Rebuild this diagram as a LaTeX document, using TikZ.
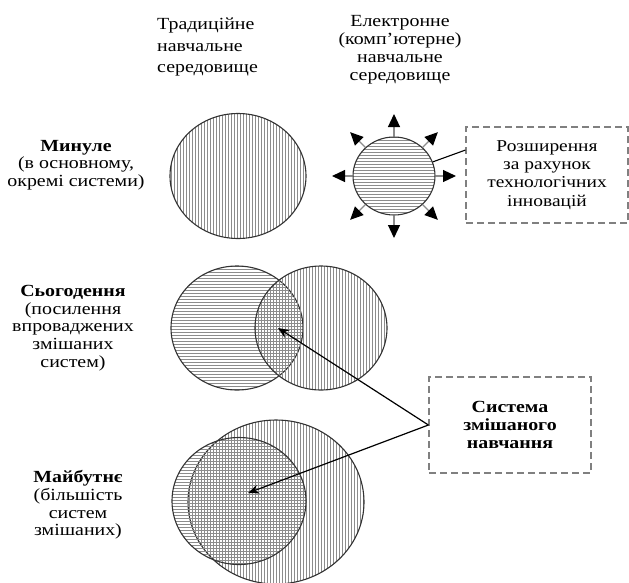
\documentclass[tikz,border=0pt]{standalone}
\usepackage{fontspec}
\setmainfont{Liberation Serif}[FakeStretch=1.17]
\usetikzlibrary{arrows.meta,positioning,shapes.geometric,patterns,calc}

\tikzset{
	circ/.style={ellipse,draw=black!80,line width=1.1pt,inner sep=0pt},
	horfill/.style={circ,pattern=horizontal lines,pattern color=black!45},
	verfill/.style={circ,pattern=vertical lines,pattern color=black!45},
	infobox/.style={draw=black!50,dash pattern=on 7pt off 4pt,line width=1.2pt,
		minimum width=162pt,minimum height=96pt,align=center,inner sep=0pt},
	stagetext/.style={align=center,inner sep=0pt,font=\fontsize{17}{17.6}\selectfont},
	headtext/.style={inner sep=0pt,font=\fontsize{17}{18}\selectfont}
}

\begin{document}
\begin{tikzpicture}[x=1pt,y=-1pt]
	\useasboundingbox (0,0) rectangle (629,582);

	% headings
	\node[headtext,align=left,anchor=west,font=\fontsize{17}{21.5}\selectfont] (trad) at (157,47) {Традиційне\\навчальне\\середовище};
	\node[headtext,align=center] (elek) at (400,50) {Електронне\\(комп’ютерне)\\навчальне\\середовище};

	% stages
	\node[stagetext] (past) at (76,165) {\textbf{Минуле}\\(в основному,\\окремі системи)};
	\node[stagetext] (now) at (73,328) {\textbf{Сьогодення}\\(посилення\\впроваджених\\змішаних\\систем)};
	\node[stagetext] (next) at (78,505) {\textbf{Майбутнє}\\(більшість\\систем\\змішаних)};

	% circles
	\node[verfill,minimum width=136pt,minimum height=125pt] (pastbig) at (238,176) {};
	\node[horfill,minimum width=82pt,minimum height=78pt] (sc) at (394,176) {};
	\node[horfill,minimum width=132pt,minimum height=124pt] (nowl) at (237,328) {};
	\node[verfill,minimum width=132pt,minimum height=124pt] (nowr) at (321,328) {};
	\node[verfill,minimum width=176pt,minimum height=164pt] (nextr) at (276,502) {};
	\node[horfill,minimum width=134pt,minimum height=127pt] (nextl) at (239,501) {};

	% boxes
	\node[infobox,font=\fontsize{16.6}{18.3}\selectfont] (ext) at (547,175) {Розширення\\за рахунок\\технологічних\\інновацій};
	\node[infobox,font=\bfseries\fontsize{17}{17.6}\selectfont] (mix) at (510,425) {Система\\змішаного\\навчання};

	\coordinate (blendnow) at (278,328);
	\coordinate (blendnext) at (248,493);

	% arrows round the small circle
	\begin{scope}[>={Triangle[black,length=13pt,width=12pt]}]
		\foreach \a in {0,45,...,315}
			\draw[->,black!45,line width=1.2pt] (sc.\a) -- ($(sc.center)!62pt!(sc.\a)$);
	\end{scope}

	\draw[line width=1.1pt] (ext.163) -- (sc.20);

	\begin{scope}[>={Stealth[black,length=11pt,width=9pt]}]
		\draw[->,line width=1.2pt] (mix.west) -- (blendnow);
		\draw[->,line width=1.2pt] (mix.west) -- (blendnext);
	\end{scope}
\end{tikzpicture}
\end{document}
